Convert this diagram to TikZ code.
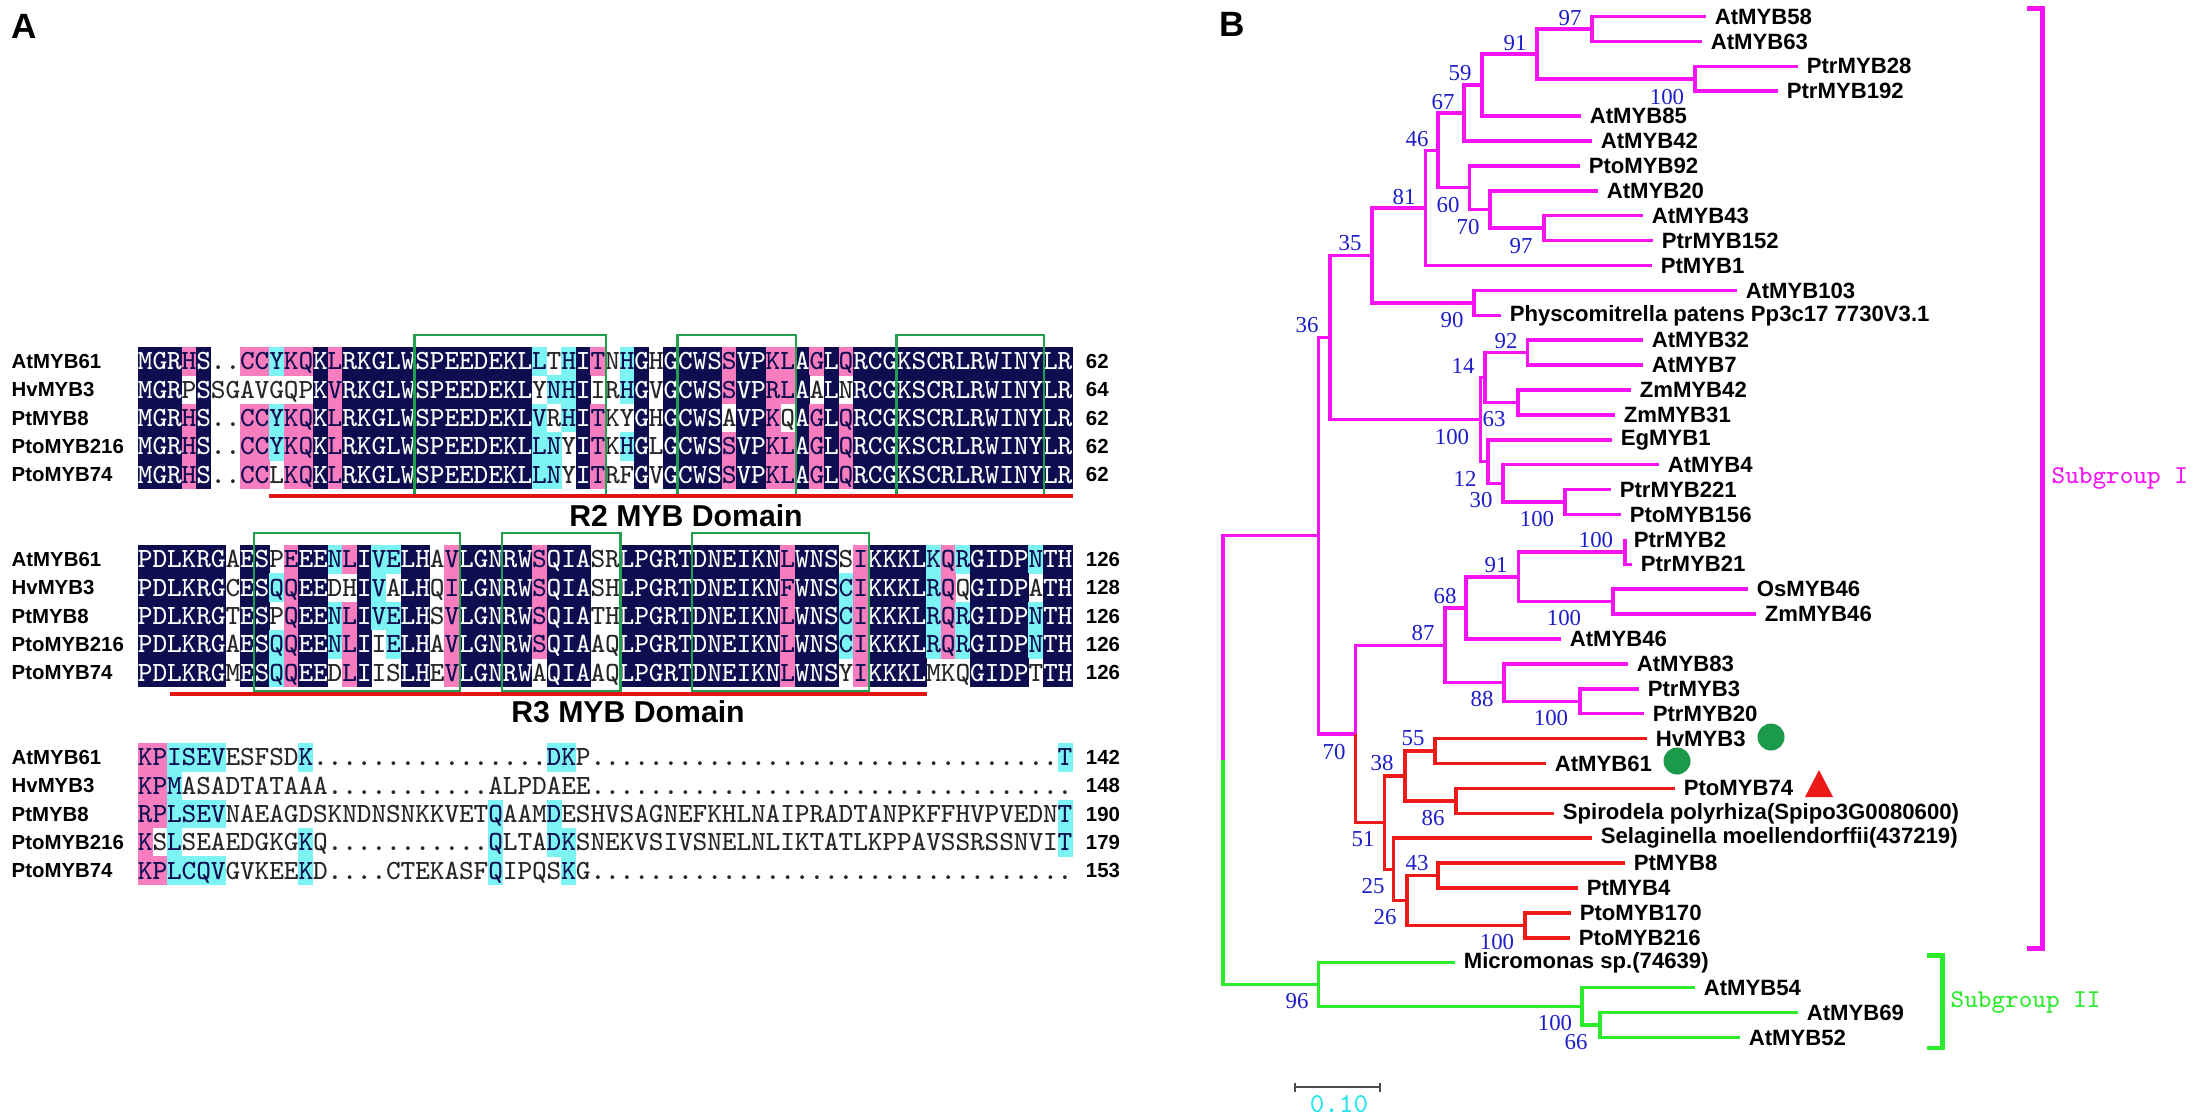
\documentclass[tikz,border=0pt]{standalone}
\usepackage{fontspec}
\setmainfont{Liberation Sans}
\newfontfamily\bootfont{Liberation Serif}
\usepackage{tikz}
\usetikzlibrary{positioning,calc}
\definecolor{Navy}{HTML}{0D0D4F}
\definecolor{Rose}{HTML}{F77DBF}
\definecolor{Aqua}{HTML}{7CF4F4}
\definecolor{Motif}{HTML}{21A050}
\definecolor{Domain}{HTML}{E31414}
\definecolor{Mag}{HTML}{F513F5}
\definecolor{Clade}{HTML}{EE1A1A}
\definecolor{Lime}{HTML}{2CEB2C}
\definecolor{Boot}{HTML}{1D1DC9}
\definecolor{Spot}{HTML}{1B9A4C}
\definecolor{Bar}{HTML}{2BE5EE}
% one aligned row: name, y, residues, shading (n navy, p pink, c cyan, w none)
\newcount\rescol
\def\resrow#1#2#3#4{\def\resname{#1}\def\resy{#2}\rescol=0
  \resloop#3\relax#4wwwwwwwwwwwwwwwwwwwwwwwwwwwwwwwwwwwwwwwwwwwwwwwwwwwwwwwwwwwwwwww\relax}
\def\resloop#1#2\relax#3#4\relax{\advance\rescol by 1
  \edef\rescell{\resname-\the\rescol}%
  \node[res#3] (\rescell) at ({138+14.6*(\the\rescol-0.5)},\resy) {#1};%
  \ifx\relax#2\relax\else\resloop#2\relax#4\relax\fi}
\tikzset{
  res/.style={inner sep=0pt,minimum width=1.49mm,minimum height=2.88mm,text height=4.8pt,text depth=0pt,font=\ttfamily\fontsize{7.9}{8}\selectfont},
  resn/.style={res,fill=Navy,text=white},
  resp/.style={res,fill=Rose,text=Navy},
  resc/.style={res,fill=Aqua,text=Navy},
  resw/.style={res,text=black!85},
  motif/.style={draw=Motif,line width=0.75pt},
  domline/.style={draw=Domain,line width=1.2pt},
  rowlbl/.style={anchor=west,inner sep=0pt,font=\bfseries\fontsize{5.8}{6}\selectfont},
  numlbl/.style={inner sep=0pt,font=\bfseries\fontsize{5.8}{6}\selectfont},
}

\begin{document}
\begin{tikzpicture}[x=0.1mm,y=-0.1mm,
 mag/.style={draw=Mag,line width=1pt},
 cla/.style={draw=Clade,line width=1pt},
 lim/.style={draw=Lime,line width=1pt},
 leaf/.style={anchor=west,inner xsep=2.3pt,inner ysep=0pt,font=\bfseries\fontsize{6.3}{7}\selectfont},
 bs/.style={inner sep=0pt,text=Boot,font=\bootfont\fontsize{6.5}{7}\selectfont},
 spot/.style={circle,fill=Spot,inner sep=0pt,minimum size=2.7mm},
 grouplbl/.style={anchor=west,inner sep=0pt,font=\ttfamily\fontsize{7.3}{8}\selectfont},
 panel/.style={anchor=north west,inner sep=0pt,font=\bfseries\fontsize{10}{12}\selectfont},
 domlbl/.style={inner sep=0pt,font=\bfseries\fontsize{8.6}{10}\selectfont},
 scalebar/.style={draw=black!70,line width=0.5pt}]
\fill[white] (0,0) rectangle (2201,1118);
\useasboundingbox (0,0) rectangle (2201,1118);
\node[panel] (pA) at (11,14) {A};
\node[panel] (pB) at (1219,12) {B};
% alignment, block 1
\resrow{a1}{361.2}{MGRHS..CCY KQKLRKGLWS PEEDEKLLTH ITNHGHGCWS SVPKLAGLQR CGKSCRLRWI NYLR}{nnnpnwwppc ppnpnnnnnn nnnnnnncwc npwcnwnnnn pnnppnpnpn nnnnnnnnnn nnnn}
\resrow{a2}{389.6}{MGRPSSGAVG QPKVRKGLWS PEEDEKLYNH IIRHGVGCWS SVPRLAALNR CGKSCRLRWI NYLR}{nnnwnwwwww wwnpnnnnnn nnnnnnnwcc nwwcnwnnnn pnnppnwnwn nnnnnnnnnn nnnn}
\resrow{a3}{418.0}{MGRHS..CCY KQKLRKGLWS PEEDEKLVRH ITKYGHGCWS AVPKQAGLQR CGKSCRLRWI NYLR}{nnnpnwwppc ppnpnnnnnn nnnnnnncwc npwwnwnnnn wnnpwnpnpn nnnnnnnnnn nnnn}
\resrow{a4}{446.4}{MGRHS..CCY KQKLRKGLWS PEEDEKLLNY ITKHGLGCWS SVPKLAGLQR CGKSCRLRWI NYLR}{nnnpnwwppc ppnpnnnnnn nnnnnnnccw npwcnwnnnn pnnppnpnpn nnnnnnnnnn nnnn}
\resrow{a5}{474.8}{MGRHS..CCL KQKLRKGLWS PEEDEKLLNY ITRFGVGCWS SVPKLAGLQR CGKSCRLRWI NYLR}{nnnpnwwppw ppnpnnnnnn nnnnnnnccw npwwnwnnnn pnnppnpnpn nnnnnnnnnn nnnn}
\node[rowlbl] (la1) at (11,361.2) {AtMYB61}; \node[rowlbl] (la2) at (11,389.6) {HvMYB3};
\node[rowlbl] (la3) at (11,418.0) {PtMYB8}; \node[rowlbl] (la4) at (11,446.4) {PtoMYB216};
\node[rowlbl] (la5) at (11,474.8) {PtoMYB74};
\node[numlbl,right=1.2mm of a1-64] (na1) {62}; \node[numlbl,right=1.2mm of a2-64] (na2) {64};
\node[numlbl,right=1.2mm of a3-64] (na3) {62}; \node[numlbl,right=1.2mm of a4-64] (na4) {62};
\node[numlbl,right=1.2mm of a5-64] (na5) {62};
\draw[motif] ([yshift=1.1mm]a1-20.north west) rectangle ([yshift=-0.5mm]a5-32.south east);
\draw[motif] ([yshift=1.1mm]a1-38.north west) rectangle ([yshift=-0.5mm]a5-45.south east);
\draw[motif] ([yshift=1.1mm]a1-53.north west) rectangle ([yshift=-0.5mm]a5-62.south east);
\draw[domline] ([yshift=-0.6mm]a5-10.south west) -- ([yshift=-0.6mm]a5-64.south east);
\node[domlbl] (r2) at (686,516) {R2 MYB Domain};
% alignment, block 2
\resrow{b1}{559.2}{PDLKRGAESP EEENLIVELH AVLGNRWSQI ASRLPGRTDN EIKNLWNSSI KKKLKQRGID PNTH}{nnnnnnwnnw pnncpnccnn wpnnnnnpnn nwwnnnnnnn nnnnpnnnwp nnnncpcnnn ncnn}
\resrow{b2}{587.6}{PDLKRGCESQ QEEDHIVALH QILGNRWSQI ASHLPGRTDN EIKNFWNSCI KKKLRQQGID PATH}{nnnnnnwnnc pnnwwncwnn wpnnnnnpnn nwwnnnnnnn nnnnpnnncp nnnncpwnnn nwnn}
\resrow{b3}{616.0}{PDLKRGTESP QEENLIVELH SVLGNRWSQI ATHLPGRTDN EIKNLWNSCI KKKLRQRGID PNTH}{nnnnnnwnnw pnncpnccnn wpnnnnnpnn nwwnnnnnnn nnnnpnnncp nnnncpcnnn ncnn}
\resrow{b4}{644.4}{PDLKRGAESQ QEENLIIELH AVLGNRWSQI AAQLPGRTDN EIKNLWNSCI KKKLRQRGID PNTH}{nnnnnnwnnc pnncpnwcnn wpnnnnnpnn nwwnnnnnnn nnnnpnnncp nnnncpcnnn ncnn}
\resrow{b5}{672.8}{PDLKRGMESQ QEEDLIISLH EVLGNRWAQI AAQLPGRTDN EIKNLWNSYI KKKLMKQGID PTTH}{nnnnnnwnnc pnnwpnwwnn wpnnnnnwnn nwwnnnnnnn nnnnpnnnwp nnnnwwwnnn nwnn}
\node[rowlbl] (lb1) at (11,559.2) {AtMYB61}; \node[rowlbl] (lb2) at (11,587.6) {HvMYB3};
\node[rowlbl] (lb3) at (11,616.0) {PtMYB8}; \node[rowlbl] (lb4) at (11,644.4) {PtoMYB216};
\node[rowlbl] (lb5) at (11,672.8) {PtoMYB74};
\node[numlbl,right=1.2mm of b1-64] (nb1) {126}; \node[numlbl,right=1.2mm of b2-64] (nb2) {128};
\node[numlbl,right=1.2mm of b3-64] (nb3) {126}; \node[numlbl,right=1.2mm of b4-64] (nb4) {126};
\node[numlbl,right=1.2mm of b5-64] (nb5) {126};
\draw[motif] ([yshift=1.1mm]b1-9.north west) rectangle ([yshift=-0.3mm]b5-22.south east);
\draw[motif] ([yshift=1.1mm]b1-26.north west) rectangle ([yshift=-0.3mm]b5-33.south east);
\draw[motif] ([yshift=1.1mm]b1-39.north west) rectangle ([yshift=-0.3mm]b5-50.south east);
\draw[domline] ([xshift=0.4mm,yshift=-0.6mm]b5-3.south west) -- ([yshift=-0.6mm]b5-54.south east);
\node[domlbl] (r3) at (628,712) {R3 MYB Domain};
% alignment, block 3
\resrow{c1}{757.2}{KPISEVESFS DK........ ........DK P......... .......... .......... ...T}{ppccccwwww wcwwwwwwww wwwwwwwwcc wwwwwwwwww wwwwwwwwww wwwwwwwwww wwwc}
\resrow{c2}{785.6}{KPMASADTAT AAA....... ....ALPDAE E......... .......... .......... ....}{ppc}
\resrow{c3}{814.0}{RPLSEVNAEA GDSKNDNSNK KVETQAAMDE SHVSAGNEFK HLNAIPRADT ANPKFFHVPV EDNT}{ppccccwwww wwwwwwwwww wwwwcwwwcw wwwwwwwwww wwwwwwwwww wwwwwwwwww wwwc}
\resrow{c4}{842.4}{KSLSEAEDGK GKQ....... ....QLTADK SNEKVSIVSN ELNLIKTATL KPPAVSSRSS NVIT}{pwcwwwwwww wcwwwwwwww wwwwcwwwcc wwwwwwwwww wwwwwwwwww wwwwwwwwww wwwc}
\resrow{c5}{870.8}{KPLCQVGVKE EKD....CTE KASFQIPQSK G......... .......... .......... ....}{ppccccwwww wcwwwwwwww wwwwcwwwwc}
\node[rowlbl] (lc1) at (11,757.2) {AtMYB61}; \node[rowlbl] (lc2) at (11,785.6) {HvMYB3};
\node[rowlbl] (lc3) at (11,814.0) {PtMYB8}; \node[rowlbl] (lc4) at (11,842.4) {PtoMYB216};
\node[rowlbl] (lc5) at (11,870.8) {PtoMYB74};
\node[numlbl,right=1.2mm of c1-64] (nc1) {142}; \node[numlbl,right=1.2mm of c2-64] (nc2) {148};
\node[numlbl,right=1.2mm of c3-64] (nc3) {190}; \node[numlbl,right=1.2mm of c4-64] (nc4) {179};
\node[numlbl,right=1.2mm of c5-64] (nc5) {153};
% tree leaves
\node[leaf] (AtMYB58) at (1706,16.5) {AtMYB58};
\node[leaf] (AtMYB63) at (1702,41.4) {AtMYB63};
\node[leaf] (PtrMYB28) at (1798,66.3) {PtrMYB28};
\node[leaf] (PtrMYB192) at (1778,91.2) {PtrMYB192};
\node[leaf] (AtMYB85) at (1581,116.1) {AtMYB85};
\node[leaf] (AtMYB42) at (1592,141.0) {AtMYB42};
\node[leaf] (PtoMYB92) at (1580,165.9) {PtoMYB92};
\node[leaf] (AtMYB20) at (1598,190.8) {AtMYB20};
\node[leaf] (AtMYB43) at (1643,215.7) {AtMYB43};
\node[leaf] (PtrMYB152) at (1653,240.6) {PtrMYB152};
\node[leaf] (PtMYB1) at (1652,265.5) {PtMYB1};
\node[leaf] (AtMYB103) at (1737,290.4) {AtMYB103};
\node[leaf] (Pp3c17) at (1501,315.3) {Physcomitrella patens Pp3c17 7730V3.1};
\node[leaf] (AtMYB32) at (1643,340.2) {AtMYB32};
\node[leaf] (AtMYB7) at (1643,365.1) {AtMYB7};
\node[leaf] (ZmMYB42) at (1631,390.0) {ZmMYB42};
\node[leaf] (ZmMYB31) at (1615,414.9) {ZmMYB31};
\node[leaf] (EgMYB1) at (1612,439.8) {EgMYB1};
\node[leaf] (AtMYB4) at (1659,464.7) {AtMYB4};
\node[leaf] (PtrMYB221) at (1611,489.6) {PtrMYB221};
\node[leaf] (PtoMYB156) at (1621,514.5) {PtoMYB156};
\node[leaf] (PtrMYB2) at (1625,539.4) {PtrMYB2};
\node[leaf] (PtrMYB21) at (1632,564.3) {PtrMYB21};
\node[leaf] (OsMYB46) at (1748,589.2) {OsMYB46};
\node[leaf] (ZmMYB46) at (1756,614.1) {ZmMYB46};
\node[leaf] (AtMYB46) at (1561,639.0) {AtMYB46};
\node[leaf] (AtMYB83) at (1628,663.9) {AtMYB83};
\node[leaf] (PtrMYB3) at (1639,688.8) {PtrMYB3};
\node[leaf] (PtrMYB20) at (1644,713.7) {PtrMYB20};
\node[leaf] (HvMYB3) at (1647,738.6) {HvMYB3};
\node[leaf] (AtMYB61) at (1546,763.5) {AtMYB61};
\node[leaf] (PtoMYB74) at (1675,788.4) {PtoMYB74};
\node[leaf] (Spipo) at (1554,813.3) {Spirodela polyrhiza(Spipo3G0080600)};
\node[leaf] (Smoe) at (1592,838.2) {Selaginella moellendorffii(437219)};
\node[leaf] (PtMYB8) at (1625,863.1) {PtMYB8};
\node[leaf] (PtMYB4) at (1578,888.0) {PtMYB4};
\node[leaf] (PtoMYB170) at (1571,912.9) {PtoMYB170};
\node[leaf] (PtoMYB216) at (1570,937.8) {PtoMYB216};
\node[leaf] (Micro) at (1455,962.7) {Micromonas sp.(74639)};
\node[leaf] (AtMYB54) at (1695,987.6) {AtMYB54};
\node[leaf] (AtMYB69) at (1798,1012.5) {AtMYB69};
\node[leaf] (AtMYB52) at (1740,1037.4) {AtMYB52};
% tree nodes
\coordinate (n97a) at (1592,29.0); \coordinate (n100a) at (1695,78.8);
\coordinate (n91) at (1537,53.9); \coordinate (n59) at (1482,85.0);
\coordinate (n67) at (1464,113.0); \coordinate (n97b) at (1544,228.2);
\coordinate (n70a) at (1490,209.5); \coordinate (n60) at (1469.5,187.7);
\coordinate (n46) at (1438,150.4); \coordinate (n81) at (1425.7,207.9);
\coordinate (n90) at (1474,302.9); \coordinate (n35) at (1372,255.4);
\coordinate (n92) at (1527.5,352.7); \coordinate (n63) at (1518,402.5);
\coordinate (n14) at (1485,377.6); \coordinate (n100b) at (1565,502.1);
\coordinate (n30) at (1503,483.4); \coordinate (n12) at (1488,461.6);
\coordinate (n100c) at (1480.6,419.6); \coordinate (n36b) at (1330,337.5);
\coordinate (nPtr2) at (1625,551.9); \coordinate (nOZ) at (1613,601.7);
\coordinate (n91b) at (1518.6,576.8); \coordinate (n68) at (1466,607.9);
\coordinate (n100d) at (1580,701.3); \coordinate (n88) at (1504,682.6);
\coordinate (n87) at (1445,645.3); \coordinate (n55) at (1435,751.1);
\coordinate (n86) at (1456,800.9); \coordinate (n38) at (1405,776.0);
\coordinate (n43) at (1438,875.6); \coordinate (n100e) at (1525,925.4);
\coordinate (n26) at (1407,900.5); \coordinate (n25) at (1393.6,869.3);
\coordinate (n51) at (1384.6,822.6); \coordinate (n70) at (1355.6,733.9);
\coordinate (n36) at (1318.6,535.7); \coordinate (n66) at (1600,1025.0);
\coordinate (n100f) at (1582,1006.3); \coordinate (n96) at (1318.6,984.5);
\coordinate (root) at (1223,760.1);
% subgroup I
\draw[mag] (n97a) |- (AtMYB58); \draw[mag] (n97a) |- (AtMYB63);
\draw[mag] (n100a) |- (PtrMYB28); \draw[mag] (n100a) |- (PtrMYB192);
\draw[mag] (n91) |- (n97a); \draw[mag] (n91) |- (n100a);
\draw[mag] (n59) |- (n91); \draw[mag] (n59) |- (AtMYB85);
\draw[mag] (n67) |- (n59); \draw[mag] (n67) |- (AtMYB42);
\draw[mag] (n97b) |- (AtMYB43); \draw[mag] (n97b) |- (PtrMYB152);
\draw[mag] (n70a) |- (AtMYB20); \draw[mag] (n70a) |- (n97b);
\draw[mag] (n60) |- (PtoMYB92); \draw[mag] (n60) |- (n70a);
\draw[mag] (n46) |- (n67); \draw[mag] (n46) |- (n60);
\draw[mag] (n81) |- (n46); \draw[mag] (n81) |- (PtMYB1);
\draw[mag] (n90) |- (AtMYB103); \draw[mag] (n90) |- (Pp3c17);
\draw[mag] (n35) |- (n81); \draw[mag] (n35) |- (n90);
\draw[mag] (n92) |- (AtMYB32); \draw[mag] (n92) |- (AtMYB7);
\draw[mag] (n63) |- (ZmMYB42); \draw[mag] (n63) |- (ZmMYB31);
\draw[mag] (n14) |- (n92); \draw[mag] (n14) |- (n63);
\draw[mag] (n100b) |- (PtrMYB221); \draw[mag] (n100b) |- (PtoMYB156);
\draw[mag] (n30) |- (AtMYB4); \draw[mag] (n30) |- (n100b);
\draw[mag] (n12) |- (EgMYB1); \draw[mag] (n12) |- (n30);
\draw[mag] (n100c) |- (n14); \draw[mag] (n100c) |- (n12);
\draw[mag] (n36b) |- (n35); \draw[mag] (n36b) |- (n100c);
\draw[mag] (nPtr2) |- (PtrMYB2); \draw[mag] (nPtr2) |- (PtrMYB21);
\draw[mag] (nOZ) |- (OsMYB46); \draw[mag] (nOZ) |- (ZmMYB46);
\draw[mag] (n91b) |- (nPtr2); \draw[mag] (n91b) |- (nOZ);
\draw[mag] (n68) |- (n91b); \draw[mag] (n68) |- (AtMYB46);
\draw[mag] (n100d) |- (PtrMYB3); \draw[mag] (n100d) |- (PtrMYB20);
\draw[mag] (n88) |- (AtMYB83); \draw[mag] (n88) |- (n100d);
\draw[mag] (n87) |- (n68); \draw[mag] (n87) |- (n88);
\draw[mag] (n70) |- (n87);
\draw[mag] (n36) |- (n36b); \draw[mag] (n36) |- (n70);
\draw[mag] (root) |- (n36);
% red clade
\draw[cla] (n55) |- (HvMYB3); \draw[cla] (n55) |- (AtMYB61);
\draw[cla] (n86) |- (PtoMYB74); \draw[cla] (n86) |- (Spipo);
\draw[cla] (n38) |- (n55); \draw[cla] (n38) |- (n86);
\draw[cla] (n43) |- (PtMYB8); \draw[cla] (n43) |- (PtMYB4);
\draw[cla] (n100e) |- (PtoMYB170); \draw[cla] (n100e) |- (PtoMYB216);
\draw[cla] (n26) |- (n43); \draw[cla] (n26) |- (n100e);
\draw[cla] (n25) |- (Smoe); \draw[cla] (n25) |- (n26);
\draw[cla] (n51) |- (n38); \draw[cla] (n51) |- (n25);
\draw[cla] (n70) |- (n51);
% subgroup II
\draw[lim] (n66) |- (AtMYB69); \draw[lim] (n66) |- (AtMYB52);
\draw[lim] (n100f) |- (AtMYB54); \draw[lim] (n100f) |- (n66);
\draw[lim] (n96) |- (Micro); \draw[lim] (n96) |- (n100f);
\draw[lim] (root) |- (n96);
% bootstrap values
\node[bs] (t97a) at (1570,18) {97}; \node[bs] (t100a) at (1667,97) {100};
\node[bs] (t91) at (1515,43) {91}; \node[bs] (t59) at (1460,73) {59};
\node[bs] (t67) at (1443,102) {67}; \node[bs] (t46) at (1417,139) {46};
\node[bs] (t60) at (1448,205) {60}; \node[bs] (t70a) at (1468,227) {70};
\node[bs] (t97b) at (1521,246) {97}; \node[bs] (t81) at (1404,197) {81};
\node[bs] (t90) at (1452,320) {90}; \node[bs] (t35) at (1350,243) {35};
\node[bs] (t36) at (1307,325) {36}; \node[bs] (t92) at (1506,341) {92};
\node[bs] (t14) at (1463,366) {14}; \node[bs] (t63) at (1494,419) {63};
\node[bs] (t100c) at (1452,437) {100}; \node[bs] (t12) at (1465,479) {12};
\node[bs] (t30) at (1481,500) {30}; \node[bs] (t100b) at (1537,519) {100};
\node[bs] (tPtr2) at (1596,540) {100}; \node[bs] (t91b) at (1496,565) {91};
\node[bs] (tOZ) at (1564,618) {100}; \node[bs] (t68) at (1445,596) {68};
\node[bs] (t87) at (1423,633) {87}; \node[bs] (t88) at (1482,699) {88};
\node[bs] (t100d) at (1551,718) {100}; \node[bs] (t55) at (1413,738) {55};
\node[bs] (t70) at (1334,752) {70}; \node[bs] (t38) at (1382,763) {38};
\node[bs] (t86) at (1433,818) {86}; \node[bs] (t51) at (1363,839) {51};
\node[bs] (t43) at (1417,863) {43}; \node[bs] (t25) at (1373,886) {25};
\node[bs] (t26) at (1385,917) {26}; \node[bs] (t100e) at (1497,942) {100};
\node[bs] (t96) at (1297,1001) {96}; \node[bs] (t100f) at (1555,1023) {100};
\node[bs] (t66) at (1576,1042) {66};
% markers
\node[spot] (mkHv) at (1771,737) {}; \node[spot] (mkAt) at (1677,761) {};
\fill[Clade] (1805,797) -- (1833,797) -- (1819,770) -- cycle;
% subgroup brackets
\draw[draw=Mag,line width=1.3pt] (2027,8.6) -- (2042.7,8.6) -- (2042.7,948.6) -- (2027,948.6);
\node[grouplbl,text=Mag] (sg1) at (2051,478.6) {Subgroup I};
\draw[draw=Lime,line width=1.3pt] (1927,955.7) -- (1942.7,955.7) -- (1942.7,1047.9) -- (1927,1047.9);
\node[grouplbl,text=Lime] (sg2) at (1950,1002) {Subgroup II};
% scale bar
\coordinate (sbL) at (1295,1087); \coordinate (sbR) at (1380,1087);
\draw[scalebar] (sbL) -- (sbR);
\draw[scalebar] ([yshift=0.45mm]sbL) -- ([yshift=-0.45mm]sbL);
\draw[scalebar] ([yshift=0.45mm]sbR) -- ([yshift=-0.45mm]sbR);
\node[inner sep=0pt,text=Bar,font=\ttfamily\fontsize{7.8}{8}\selectfont] (sblbl) at (1339,1104) {0.10};
\end{tikzpicture}
\end{document}
